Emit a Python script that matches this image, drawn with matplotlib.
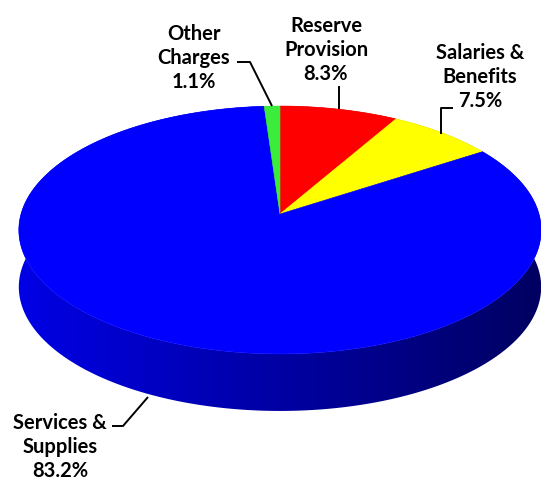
import numpy as np
import matplotlib
matplotlib.use("Agg")
import matplotlib.pyplot as plt
from matplotlib.patches import Polygon
from matplotlib.colors import to_rgb

# Budget shares, clockwise from 12 o'clock
categories = ["Reserve\nProvision", "Salaries &\nBenefits", "Services &\nSupplies", "Other\nCharges"]
shares = [8.3, 7.5, 83.2, 1.1]
colors = ["#ff0000", "#ffff00", "#0000ff", "#3cec3c"]

W, H = 541, 485
fig = plt.figure(figsize=(W / 100, H / 100), dpi=100)
ax = fig.add_axes([0, 0, 1, 1])
ax.set_xlim(0, W)
ax.set_ylim(H, 0)
ax.axis("off")

# Perspective disc: centre, radii, tilt factor and thickness (pixel space)
cx, cy = 280.0, 215.0
A, B, k = 259.0, 121.9, 0.129
depth = 57.0


def project(phi):
    """Map pie angle (radians, clockwise from back) to image coordinates."""
    u = np.sin(phi)
    v = -np.cos(phi)
    w = 1 - k * v
    return cx + A * u / w, cy + B * v / w


total = float(sum(shares))
bounds = np.concatenate([[0], np.cumsum(shares)]) / total * 2 * np.pi

# Horizontal shading ramp for the side wall (bright on the left, dark on the right)
xmin, xmax = cx - A * 1.01, cx + A * 1.01
gx = np.linspace(0, W, 600)
ramp = 0.90 - 0.52 * np.clip((gx - xmin) / (xmax - xmin), 0, 1)

# Side wall bands, one per slice, filled with the shaded slice colour
for i in range(len(shares)):
    t = np.linspace(bounds[i], bounds[i + 1], 400)
    xs, ys = project(t)
    band = list(zip(xs, ys)) + list(zip(xs[::-1], ys[::-1] + depth))
    clip = Polygon(band, closed=True, facecolor="none", edgecolor="none", transform=ax.transData)
    ax.add_patch(clip)
    rgb = np.array(to_rgb(colors[i]))
    img = np.tile((ramp[:, None] * rgb[None, :])[None, :, :], (2, 1, 1))
    im = ax.imshow(img, extent=(0, W, H, 0), aspect="auto", interpolation="bilinear", zorder=1)
    im.set_clip_path(clip)

# Top face wedges
for i in range(len(shares)):
    t = np.linspace(bounds[i], bounds[i + 1], 200)
    xs, ys = project(t)
    pts = [(cx, cy)] + list(zip(xs, ys))
    ax.add_patch(Polygon(pts, closed=True, facecolor=colors[i], edgecolor=colors[i],
                         linewidth=0.4, zorder=2))

# Labels and leader lines
font = dict(family=["Lato", "DejaVu Sans"], fontweight="bold", fontsize=14.5,
            ha="center", va="center", linespacing=1.25, color="black")
label_pos = [(326, 50), (480, 77), (60, 447), (194, 58)]
leaders = [
    [(339, 87), (339, 110)],
    [(453, 109), (441, 109), (441, 135)],
    [(112, 427), (123, 427), (148, 398)],
    [(237, 63), (250, 63), (272, 107)],
]
for name, val, (lx, ly), pts in zip(categories, shares, label_pos, leaders):
    ax.text(lx, ly, f"{name}\n{val:.1f}%", zorder=3, **font)
    px, py = zip(*pts)
    ax.plot(px, py, color="black", linewidth=1.4, solid_capstyle="butt", zorder=3)

ax.set_xlim(0, W)
ax.set_ylim(H, 0)
fig.savefig("out.png", dpi=100, facecolor="white")
